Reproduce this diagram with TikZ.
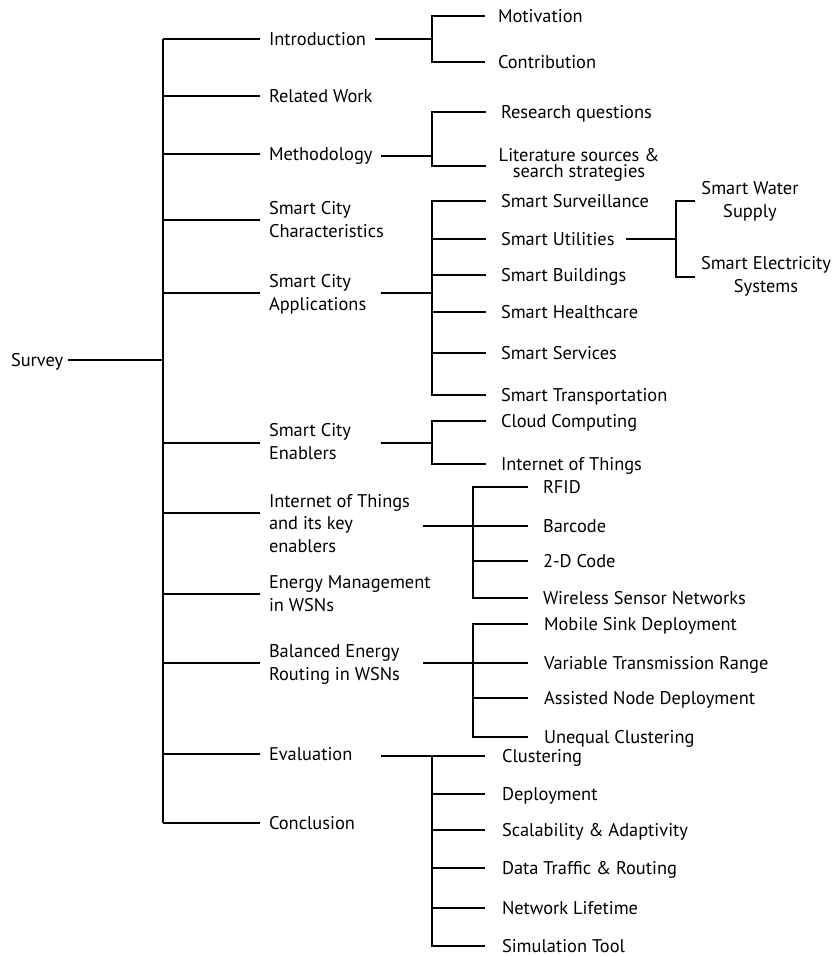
\documentclass[tikz,border=0pt]{standalone}
\usepackage{fontspec}
\setmainfont{PT Sans}
\begin{document}
\begin{tikzpicture}[x=1pt,y=-1pt,line width=2pt,line join=miter,
  every node/.style={inner sep=0pt,font=\fontsize{18.4}{22.5}\selectfont},
  lbl/.style={anchor=west,text height=13pt,text depth=1pt},
  ml/.style={anchor=base west,align=left},
  mc/.style={anchor=base,align=center},
]
\useasboundingbox (0,0) rectangle (831,956);
% column coordinates
\coordinate (T) at (163,0);
\coordinate (oA) at (381,0);
\coordinate (oB) at (423,0);
\coordinate (bA) at (432,0);
\coordinate (bB) at (473,0);
\coordinate (bU) at (676,0);
\coordinate (eA) at (486,0);
\coordinate (eU) at (695,0);

% level 0 and 1 (multi-line nodes are placed at the baseline of their last line)
\node[lbl] (survey) at (10,360) {Survey};
\node[lbl] (intro) at (268,39) {Introduction};
\node[lbl] (rel) at (268,96) {Related Work};
\node[lbl] (meth) at (268,154) {Methodology};
\node[ml] (scc) at (268,237) {Smart City\\Characteristics};
\node[ml] (sca) at (268,310) {Smart City\\Applications};
\node[ml] (sce) at (268,459) {Smart City\\Enablers};
\node[ml] (iot) at (268,552) {Internet of Things\\and its key\\enablers};
\node[ml] (em) at (268,611) {Energy Management\\in WSNs};
\node[ml] (be) at (268,680) {Balanced Energy\\Routing in WSNs};
\node[lbl] (ev) at (268,754) {Evaluation};
\node[lbl] (con) at (268,823) {Conclusion};

\path (scc.base west) ++(-8,-17) coordinate (scc-y);
\path (sca.base west) ++(-8,-17) coordinate (sca-y);
\path (sce.base west) ++(-8,-16) coordinate (sce-y);
\path (iot.base west) ++(-8,-39) coordinate (iot-y);
\path (em.base west) ++(-8,-17) coordinate (em-y);
\path (be.base west) ++(-8,-17) coordinate (be-y);
\path (meth.west) ++(0,2) coordinate (meth-o);

% level 2
\node[lbl] (mot) at (497,16) {Motivation};
\node[lbl] (contr) at (497,62) {Contribution};
\node[lbl] (rq) at (500,112) {Research questions};
\node[mc] (lit) at (579,177) {Literature sources \&\\[-6.5pt]search strategies};
\path (lit.base) ++(0,-11) coordinate (lit-y);
\node[lbl] (sur) at (500,201) {Smart Surveillance};
\node[lbl] (util) at (500,239) {Smart Utilities};
\node[lbl] (bld) at (500,275) {Smart Buildings};
\node[lbl] (hc) at (500,312) {Smart Healthcare};
\node[lbl] (srv) at (500,353) {Smart Services};
\node[lbl] (tr) at (500,395) {Smart Transportation};
\node[mc] (water) at (750,217) {Smart Water\\Supply};
\node[mc] (elec) at (766,292) {Smart Electricity\\Systems};
\path (water.base) ++(0,-16) coordinate (water-y);
\path (elec.base) ++(0,-15) coordinate (elec-y);
\node[lbl] (cc) at (500,421) {Cloud Computing};
\node[lbl] (itc) at (500,464) {Internet of Things};
\node[lbl] (rfid) at (542,487) {RFID};
\node[lbl] (bar) at (542,526) {Barcode};
\node[lbl] (twod) at (542,561) {2-D Code};
\node[lbl] (wsn) at (542,598) {Wireless Sensor Networks};
\node[lbl] (ms) at (543,624) {Mobile Sink Deployment};
\node[lbl] (vt) at (543,663) {Variable Transmission Range};
\node[lbl] (an) at (543,698) {Assisted Node Deployment};
\node[lbl] (uc) at (543,737) {Unequal Clustering};
\node[lbl] (cl) at (501,756) {Clustering};
\node[lbl] (dep) at (501,794) {Deployment};
\node[lbl] (sa) at (501,830) {Scalability \& Adaptivity};
\node[lbl] (dt) at (501,868) {Data Traffic \& Routing};
\node[lbl] (nl) at (501,908) {Network Lifetime};
\node[lbl] (st) at (501,946) {Simulation Tool};

% trunk
\draw (T |- intro.west) -- (T |- con.west);
\draw ([xshift=4pt]survey.east) -- (T |- survey.east);
\foreach \n in {intro,rel,meth,ev,con}
  \draw (T |- \n.west) -- ([xshift=-8pt]\n.west);
\foreach \n in {scc,sca,sce,iot,em,be}
  \draw (T |- \n-y) -- (\n-y);

% Introduction
\draw ([xshift=8pt]intro.east) -- (bA |- intro.east);
\draw ([xshift=-12pt]mot.west) -- (bA |- mot.west) -- (bA |- contr.west) -- ([xshift=-12pt]contr.west);

% Methodology
\draw (oA |- meth-o) -- (bA |- meth-o);
\draw ([xshift=-14pt]rq.west) -- (bA |- rq.west) -- (bA |- lit-y) -- (eA |- lit-y);

% Applications
\draw (oA |- sca-y) -- (bA |- sca-y);
\draw ([xshift=-14pt]sur.west) -- (bA |- sur.west) -- (bA |- tr.west) -- ([xshift=-14pt]tr.west);
\foreach \n in {util,bld,hc,srv}
  \draw (bA |- \n.west) -- ([xshift=-14pt]\n.west);
\draw ([xshift=10pt]util.east) -- (bU |- util.east);
\draw (eU |- water-y) -- (bU |- water-y) -- (bU |- elec-y) -- (eU |- elec-y);

% Enablers
\draw (oA |- sce-y) -- (bA |- sce-y);
\draw ([xshift=-14pt]cc.west) -- (bA |- cc.west) -- (bA |- itc.west) -- ([xshift=-14pt]itc.west);

% IoT
\draw (oB |- bar.west) -- ([xshift=-14pt]bar.west);
\draw ([xshift=-14pt]rfid.west) -- (bB |- rfid.west) -- (bB |- wsn.west) -- ([xshift=-14pt]wsn.west);
\draw (bB |- twod.west) -- ([xshift=-14pt]twod.west);

% Balanced energy
\draw (oB |- vt.west) -- ([xshift=-15pt]vt.west);
\draw ([xshift=-15pt]ms.west) -- (bB |- ms.west) -- (bB |- uc.west) -- ([xshift=-15pt]uc.west);
\draw (bB |- an.west) -- ([xshift=-15pt]an.west);

% Evaluation
\draw (oA |- cl.west) -- ([xshift=-16pt]cl.west);
\draw (bA |- cl.west) -- (bA |- st.west) -- ([xshift=-16pt]st.west);
\foreach \n in {dep,sa,dt,nl}
  \draw (bA |- \n.west) -- ([xshift=-16pt]\n.west);
\end{tikzpicture}
\end{document}
